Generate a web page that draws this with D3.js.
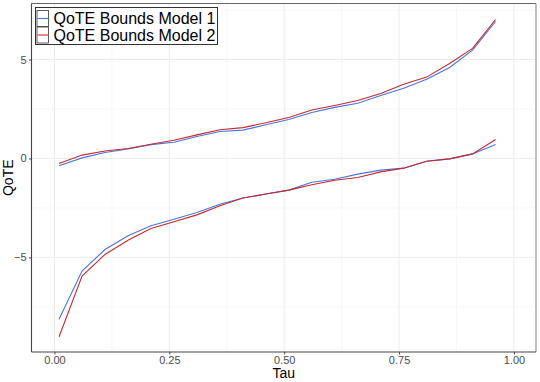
<!DOCTYPE html>
<html><head><meta charset="utf-8">
<script src="https://cdn.jsdelivr.net/npm/d3@7"></script>
<style>body{margin:0;background:#fff}svg{display:block}</style>
</head><body>
<svg id="c" width="540" height="382"></svg>
<script>
const tau = [0.01,0.06,0.11,0.16,0.21,0.26,0.31,0.36,0.41,0.46,0.51,0.56,0.61,0.66,0.71,0.76,0.81,0.86,0.91,0.96];
const upper1 = [-0.37,0.03,0.30,0.48,0.70,0.82,1.11,1.36,1.43,1.70,1.97,2.32,2.58,2.79,3.18,3.55,4.00,4.60,5.47,6.92];
const upper2 = [-0.25,0.17,0.38,0.50,0.72,0.92,1.19,1.45,1.56,1.80,2.07,2.45,2.68,2.93,3.28,3.75,4.11,4.80,5.56,7.02];
const lower1 = [-8.13,-5.69,-4.60,-3.91,-3.40,-3.07,-2.73,-2.31,-2.00,-1.80,-1.60,-1.20,-1.05,-0.79,-0.59,-0.49,-0.14,-0.02,0.23,0.71];
const lower2 = [-9.01,-5.94,-4.85,-4.13,-3.54,-3.20,-2.85,-2.39,-2.00,-1.80,-1.60,-1.33,-1.10,-0.96,-0.68,-0.49,-0.14,-0.02,0.23,0.96];
const xTicks = [0, 0.25, 0.5, 0.75, 1.0];
const xMinor = [0.125, 0.375, 0.625, 0.875];
const yTicks = [-5, 0, 5];
const yMinor = [-7.5, -2.5, 2.5, 7.5];
const seriesNames = ["QoTE Bounds Model 1", "QoTE Bounds Model 2"];
const colors = ["#4a74e0", "#c42a2e"];

const svg = d3.select("#c");
const L = 31.5, R = 536, T = 3.5, B = 352;
const x = d3.scaleLinear().domain([-0.05, 1.048]).range([L, R]);
const y = d3.scaleLinear().domain([-9.78, 7.83]).range([B, T]);

const g = svg.append("g");
// grid
g.selectAll(".gxm").data(xMinor).join("line").attr("x1", d=>x(d)).attr("x2", d=>x(d)).attr("y1", T).attr("y2", B).attr("stroke", "#f2f2f2").attr("stroke-width", 0.6);
g.selectAll(".gym").data(yMinor).join("line").attr("y1", d=>y(d)).attr("y2", d=>y(d)).attr("x1", L).attr("x2", R).attr("stroke", "#f2f2f2").attr("stroke-width", 0.6);
g.selectAll(".gx").data(xTicks).join("line").attr("x1", d=>x(d)).attr("x2", d=>x(d)).attr("y1", T).attr("y2", B).attr("stroke", "#ebebeb").attr("stroke-width", 1);
g.selectAll(".gy").data(yTicks).join("line").attr("y1", d=>y(d)).attr("y2", d=>y(d)).attr("x1", L).attr("x2", R).attr("stroke", "#ebebeb").attr("stroke-width", 1);

// lines
const line = d3.line().x((d,i)=>x(tau[i])).y(d=>y(d));
[[upper1,0],[lower1,0],[upper2,1],[lower2,1]].forEach(([arr,c])=>{
  g.append("path").attr("d", line(arr)).attr("fill","none").attr("stroke", colors[c]).attr("stroke-width", 1.1);
});

// border
g.append("line").attr("x1", L).attr("x2", R).attr("y1", T).attr("y2", T).attr("stroke", "#666").attr("stroke-width", 1);
g.append("line").attr("x1", R).attr("x2", R).attr("y1", T).attr("y2", B).attr("stroke", "#aaa").attr("stroke-width", 1.5);

// axes
const xa = svg.append("g").attr("transform", `translate(0,${B})`)
  .call(d3.axisBottom(x).tickValues(xTicks).tickFormat(d3.format(".2f")).tickSizeOuter(0).tickSize(2.5).tickPadding(2));
const ya = svg.append("g").attr("transform", `translate(${L},0)`)
  .call(d3.axisLeft(y).tickValues(yTicks).tickFormat(d=> d<0 ? "\u2212"+Math.abs(d) : d).tickSizeOuter(0).tickSize(2.5).tickPadding(2.5));
[xa, ya].forEach(a=>{
  a.select(".domain").attr("stroke", "#444").attr("stroke-width", 1.1);
  a.selectAll(".tick line").attr("stroke", "#444");
  a.selectAll("text").attr("fill", "#4d4d4d").style("font-family", "Liberation Sans, Arial, sans-serif").style("font-size", "11px");
});
ya.select(".domain").attr("d", `M0,${T}V${B}`);
xa.select(".domain").attr("d", `M${L},0H${R}`);

// axis titles
svg.append("text").attr("x", (L+R)/2).attr("y", 378).attr("text-anchor","middle")
  .style("font-family","Liberation Sans, Arial, sans-serif").style("font-size","14px").attr("fill","#000").text("Tau");
svg.append("text").attr("transform", `translate(13,${(T+B)/2}) rotate(-90)`).attr("text-anchor","middle")
  .style("font-family","Liberation Sans, Arial, sans-serif").style("font-size","14px").attr("fill","#000").text("QoTE");

// legend
const lg = svg.append("g");
lg.append("rect").attr("x", 35.5).attr("y", 7.5).attr("width", 182).attr("height", 37).attr("fill","#fff").attr("stroke","#333").attr("stroke-width",1);
seriesNames.forEach((n,i)=>{
  const ky = 10.5 + i*16.5;
  lg.append("rect").attr("x", 37).attr("y", ky).attr("width", 11.5).attr("height", 16).attr("fill","#fff").attr("stroke","#333").attr("stroke-width",0.8);
  lg.append("line").attr("x1", 37.5).attr("x2", 48).attr("y1", ky+8).attr("y2", ky+8).attr("stroke", colors[i]).attr("stroke-width",1.1);
  lg.append("text").attr("x", 53.5).attr("y", ky+13.5).style("font-family","Liberation Sans, Arial, sans-serif").style("font-size","16px").attr("fill","#000").text(n);
});
</script>
</body></html>
